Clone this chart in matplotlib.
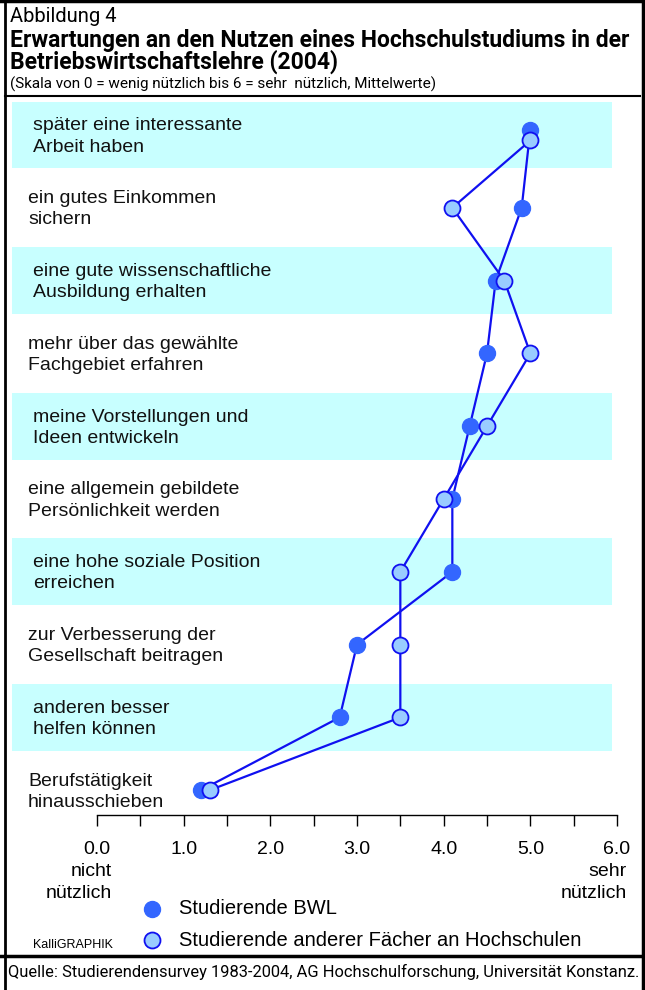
import numpy as np
import matplotlib
matplotlib.use("Agg")
import matplotlib.pyplot as plt
from matplotlib.lines import Line2D

# data
items = [
    "später eine interessante\nArbeit haben",
    "ein gutes Einkommen\nsichern",
    "eine gute wissenschaftliche\nAusbildung erhalten",
    "mehr über das gewählte\nFachgebiet erfahren",
    "meine Vorstellungen und\nIdeen entwickeln",
    "eine allgemein gebildete\nPersönlichkeit werden",
    "eine hohe soziale Position\nerreichen",
    "zur Verbesserung der\nGesellschaft beitragen",
    "anderen besser\nhelfen können",
    "Berufstätigkeit\nhinausschieben",
]
bwl = [5.0, 4.9, 4.6, 4.5, 4.3, 4.1, 4.1, 3.0, 2.8, 1.2]
andere = [5.0, 4.1, 4.7, 5.0, 4.5, 4.0, 3.5, 3.5, 3.5, 1.3]
series_names = ["Studierende BWL", "Studierende anderer Fächer an Hochschulen"]
# slight vertical nudge so overlapping points stay visible (first row)
nudge_bwl = [-0.075, 0, 0, 0, 0, 0, 0, 0, 0, 0]
nudge_andere = [0.075, 0, 0, 0, 0, 0, 0, 0, 0, 0]

W, H = 645, 990
fig = plt.figure(figsize=(W / 100, H / 100), dpi=100)
fig.patch.set_facecolor("white")

def fx(px):
    return px / W

def fy(py):
    return 1 - py / H

lab_font = ["Liberation Sans", "DejaVu Sans"]
cond_font = ["Roboto", "DejaVu Sans"]

# axes placed so that 0 -> x=97px, 6 -> x=617px
ax_left, ax_right = 12, 625
ax_top, ax_bot = 100, 815
ax = fig.add_axes([fx(ax_left), fy(ax_bot), fx(ax_right - ax_left), (ax_bot - ax_top) / H])
scale = (617 - 97) / 6.0
ax.set_xlim((ax_left - 97) / scale, (ax_right - 97) / scale)
row_h = 72.8
ax.set_ylim((ax_bot - 135) / row_h, -(135 - ax_top) / row_h)

y = np.arange(len(items))
band_right = (612 - ax_left) / (ax_right - ax_left)
for i in y:
    if i % 2 == 0:
        ax.axhspan(i - 0.46, i + 0.46, xmin=0, xmax=band_right, color="#c8ffff", lw=0, zorder=0)
    xt = 33 if i % 2 == 0 else 28
    ax.text((xt - ax_left) / (ax_right - ax_left), i + 0.02, items[i], transform=ax.get_yaxis_transform(),
            ha="left", va="center", fontsize=14, family=lab_font, linespacing=1.33, color="#111111")

line_col = "#1010f0"
ax.plot(bwl, y + np.array(nudge_bwl), color=line_col, lw=1.6, marker="o", ms=11.5,
        mfc="#3366ff", mec="#3366ff", zorder=3)
ax.plot(andere, y + np.array(nudge_andere), color=line_col, lw=1.6, marker="o", ms=11.5,
        mfc="#99ccff", mec=line_col, mew=1.3, zorder=4)

for s in ["top", "left", "right"]:
    ax.spines[s].set_visible(False)
ax.spines["bottom"].set_bounds(0, 6)
ax.spines["bottom"].set_linewidth(1.0)
ax.set_yticks([])
ticks = np.arange(0, 6.01, 0.5)
ax.set_xticks(ticks)
ax.set_xticklabels(["%.1f" % t if t == int(t) else "" for t in ticks], family=lab_font, fontsize=14)
ax.tick_params(axis="x", direction="out", length=8, width=1, pad=10.5)
ax.patch.set_alpha(0)

# axis end captions
fig.text(fx(112), fy(871), "nicht", ha="right", va="center", fontsize=14, family=lab_font)
fig.text(fx(112), fy(894), "nützlich", ha="right", va="center", fontsize=14, family=lab_font)
fig.text(fx(627), fy(871), "sehr", ha="right", va="center", fontsize=14, family=lab_font)
fig.text(fx(627), fy(894), "nützlich", ha="right", va="center", fontsize=14, family=lab_font)

# legend
fig.add_artist(Line2D([fx(152)], [fy(909)], marker="o", ms=11.5, mfc="#3366ff", mec="#3366ff", ls="none"))
fig.add_artist(Line2D([fx(152)], [fy(940)], marker="o", ms=11.5, mfc="#99ccff", mec=line_col, mew=1.3, ls="none"))
fig.text(fx(179), fy(909), series_names[0], ha="left", va="center", fontsize=14.5, family=lab_font)
fig.text(fx(179), fy(940), series_names[1], ha="left", va="center", fontsize=14.5, family=lab_font)
fig.text(fx(33), fy(945), "KalliGRAPHIK", ha="left", va="center", fontsize=9, family=lab_font)

# header
fig.text(fx(10), fy(17), "Abbildung 4", ha="left", va="center", fontsize=14.5, family=cond_font)
fig.text(fx(10), fy(40), "Erwartungen an den Nutzen eines Hochschulstudiums in der",
         ha="left", va="center", fontsize=16.5, fontweight="bold", family=cond_font)
fig.text(fx(10), fy(62), "Betriebswirtschaftslehre (2004)",
         ha="left", va="center", fontsize=16.5, fontweight="bold", family=cond_font)
fig.text(fx(10), fy(84), "(Skala von 0 = wenig nützlich bis 6 = sehr  nützlich, Mittelwerte)",
         ha="left", va="center", fontsize=11, family=cond_font)
fig.text(fx(8), fy(972), "Quelle: Studierendensurvey 1983-2004, AG Hochschulforschung, Universität Konstanz.",
         ha="left", va="center", fontsize=11.9, family=cond_font)

# frame lines
fig.add_artist(Line2D([fx(0), fx(645)], [fy(1), fy(1)], color="black", lw=2.5))
fig.add_artist(Line2D([fx(5), fx(5)], [fy(0), fy(990)], color="black", lw=2))
fig.add_artist(Line2D([fx(643), fx(643)], [fy(0), fy(990)], color="black", lw=2.5))
fig.add_artist(Line2D([fx(5), fx(640)], [fy(96), fy(96)], color="black", lw=1.5))
fig.add_artist(Line2D([fx(0), fx(645)], [fy(956), fy(956)], color="black", lw=2.5))

fig.savefig("out.png", dpi=100, facecolor="white")
